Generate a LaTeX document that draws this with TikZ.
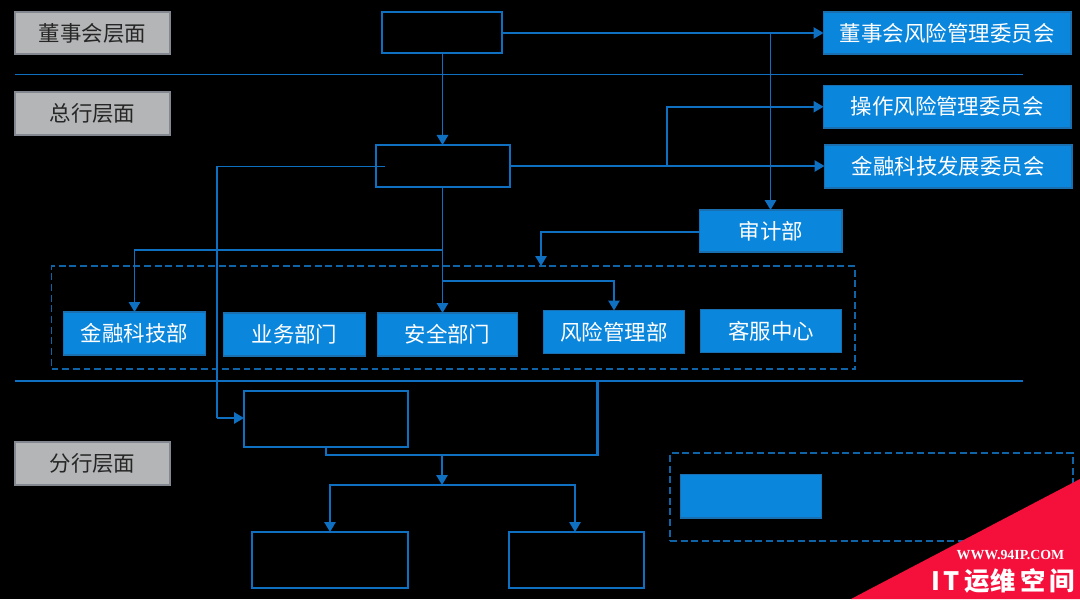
\documentclass[tikz,border=0pt]{standalone}
\usepackage{fontspec}
\setmainfont{Noto Sans CJK SC}
\newfontfamily\wmserif{Liberation Serif}
\usetikzlibrary{arrows.meta}
\definecolor{lineblue}{HTML}{0F6FC0}
\definecolor{dashblue}{HTML}{0F64A8}
\definecolor{fillblue}{HTML}{0A86DC}
\definecolor{edgeblue}{HTML}{1A6FB0}
\definecolor{tagfill}{HTML}{B4B5B6}
\definecolor{tagedge}{HTML}{83878F}
\definecolor{tagtext}{HTML}{262626}
\definecolor{wmred}{HTML}{F5103C}
\tikzset{
  x=0.75pt,y=-0.75pt,
  base/.style={rectangle,inner sep=0pt,outer sep=0pt,font=\fontsize{16.1}{18}\selectfont},
  tagbox/.style={base,draw=tagedge,fill=tagfill,line width=1.1pt,text=tagtext},
  bluebox/.style={base,draw=edgeblue,fill=fillblue,line width=0.8pt,text=white},
  hollow/.style={base,draw=lineblue,line width=1.9pt},
  hollowthin/.style={base,draw=lineblue,line width=1.3pt},
  dashbox/.style={base,draw=dashblue,line width=1.3pt,dash pattern=on 5.2pt off 2.8pt},
  conn/.style={draw=lineblue,line width=1.4pt,line join=miter},
  arrowed/.style={conn,-{Triangle[length=7.5pt,width=8.5pt]}},
  thickconn/.style={draw=lineblue,line width=2pt},
  rule/.style={draw=lineblue,line width=0.8pt},
  ruleb/.style={draw=lineblue,line width=1.2pt},
}
% \bx{style}{name}{x1}{y1}{x2}{y2}{text}
\newcommand{\bx}[7]{%
  \pgfmathsetmacro{\bxw}{(#5-#3)*0.75}%
  \pgfmathsetmacro{\bxh}{(#6-#4)*0.75}%
  \node[#1,minimum width=\bxw pt,minimum height=\bxh pt] (#2) at ({(#3+#5)/2},{(#4+#6)/2}) {\raisebox{-0.6pt}{#7}};%
}
\begin{document}
\begin{tikzpicture}
\useasboundingbox (0,0) rectangle (1080,599);
\fill[black] (0,0) rectangle (1080,599);

% level rules
\coordinate (r1a) at (15,74.5); \coordinate (r1b) at (1023,74.5);
\coordinate (r2a) at (15,381);  \coordinate (r2b) at (1023,381);
\draw[rule] (r1a) -- (r1b);
\draw[ruleb] (r2a) -- (r2b);

% dashed groups
\bx{dashbox}{deptgroup}{51.5}{266}{855}{369}{}
\bx{dashbox}{legendgroup}{670}{453}{1073}{541}{}

% level tags
\bx{tagbox}{tagA}{15}{12}{170}{54}{董事会层面}
\bx{tagbox}{tagB}{15}{92}{170}{135}{总行层面}
\bx{tagbox}{tagC}{15}{442}{170}{485}{分行层面}

% hollow boxes
\bx{hollow}{board}{382}{12}{502}{53}{}
\bx{hollow}{hq}{376}{145}{510}{187}{}
\bx{hollowthin}{branch}{244}{391}{408}{447}{}
\bx{hollowthin}{subA}{252}{532}{408}{588}{}
\bx{hollowthin}{subB}{509}{532}{644}{588}{}

% blue boxes
\bx{bluebox}{comA}{823.5}{12}{1071}{54}{董事会风险管理委员会}
\bx{bluebox}{comB}{823.5}{85.5}{1071}{128}{操作风险管理委员会}
\bx{bluebox}{comC}{824.5}{145}{1072}{188}{金融科技发展委员会}
\bx{bluebox}{audit}{699.5}{210}{842}{252}{审计部}
\bx{bluebox}{fintech}{63.5}{312}{205.5}{355}{金融科技部}
\bx{bluebox}{biz}{223.5}{313}{365.5}{356}{业务部门}
\bx{bluebox}{sec}{377.5}{313}{517.5}{356}{安全部门}
\bx{bluebox}{risk}{543.5}{310.5}{684.5}{353.5}{风险管理部}
\bx{bluebox}{svc}{700.5}{309.5}{841.5}{352.5}{客服中心}
\bx{bluebox}{legend}{680.5}{474.5}{821.5}{518}{}

% junctions
\coordinate (jBoard) at (770.5,33);
\coordinate (jCom) at (667,166);
\coordinate (jHq) at (442.5,250);
\coordinate (jRisk) at (442.5,281);
\coordinate (hqTail) at (385,166.5);
\coordinate (hqLeft) at (217,166.5);
\coordinate (hqDown) at (217,418);
\coordinate (merge) at (442,455);
\coordinate (split) at (442,485);
\coordinate (mergeL) at (326,455);
\coordinate (ruleJ) at (597.5,381);
\coordinate (auditDrop) at (541,232);
\coordinate (subBdrop) at (575,532);

% connectors
\draw[arrowed] (board.east |- jBoard) -- (comA.west |- jBoard);
\draw[arrowed] (jBoard) -- (jBoard |- audit.north);
\draw[arrowed] (board.south -| jHq) -- (hq.north -| jHq);
\draw[conn] (hq.east |- jCom) -- (jCom);
\draw[arrowed] (jCom) |- (comB.west);
\draw[arrowed] (jCom) -- (comC.west |- jCom);
\draw[conn] (hq.south -| jHq) -- (jHq);
\draw[arrowed] (jHq) -- (sec.north -| jHq);
\draw[arrowed] (jHq) -| (fintech.north);
\draw[arrowed] (jRisk) -| (risk.north);
\draw[arrowed] (audit.west |- auditDrop) -- (auditDrop) -- (auditDrop |- deptgroup.north);
\draw[conn,line width=1.1pt] (hqTail) -- (hqLeft) -- (hqDown);
\draw[arrowed] (hqDown) -- (branch.west |- hqDown);
\draw[thickconn] (branch.south -| mergeL) -- (mergeL) -- (merge -| ruleJ) -- (ruleJ);
\draw[arrowed] (merge) -- (split);
\draw[arrowed] (split) -| (subA.north);
\draw[arrowed] (split) -| (subBdrop);

% watermark
\fill[wmred] (1080,479) -- (1080,599) -- (851,599) -- cycle;
\node[inner sep=0pt,text=white,font=\wmserif\bfseries\fontsize{10.4}{11}\selectfont] (wmA) at (1010.5,555) {WWW.94IP.COM};
\node[inner sep=0pt,text=white,font=\bfseries\fontsize{19}{20}\selectfont] (wmB) at (1003,581) {I\hspace{3pt}T\hspace{3pt}运\hspace{1pt}维\hspace{3pt}空\hspace{3pt}间};
\end{tikzpicture}
\end{document}
